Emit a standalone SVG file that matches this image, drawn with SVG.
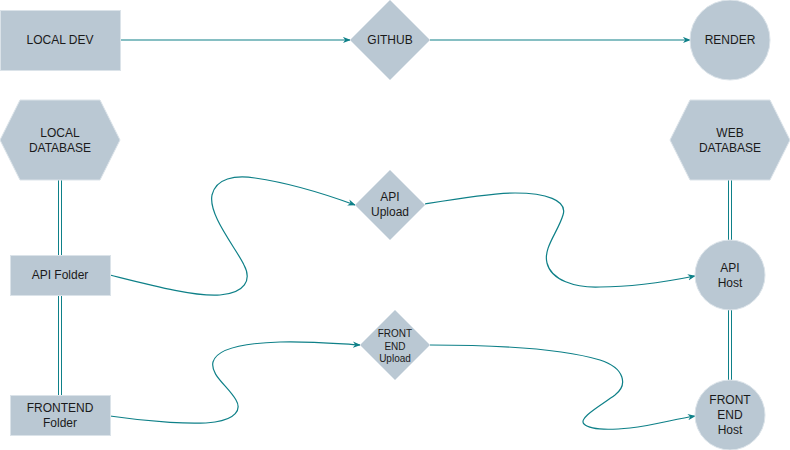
<svg xmlns="http://www.w3.org/2000/svg" width="790" height="450" viewBox="0 0 790 450">
<defs>
<style>
.node{fill:#bac8d3;stroke:#dbe3e9;stroke-width:1}
.t{font-family:"Liberation Sans",Arial,sans-serif;font-size:12px;fill:#1a1a1a;text-anchor:middle}
.s{font-size:10px}
.e{fill:none;stroke:#0e8088;stroke-width:1.2}
.d{fill:none;stroke:#0e8088;stroke-width:1}
</style>
<marker id="arr" viewBox="0 0 10 8" refX="9" refY="4" markerWidth="8" markerHeight="7" markerUnits="userSpaceOnUse" orient="auto">
<path d="M0,0 L10,4 L0,8 L3,4 Z" fill="#0e8088"/>
</marker>
</defs>
<rect width="790" height="450" fill="#ffffff"/>
<g id="connectors">
<path class="e" d="M120,40 L350,40" marker-end="url(#arr)"/>
<path class="e" d="M430,40 L690,40" marker-end="url(#arr)"/>
<path class="e" d="M110,275 C150,285 195,297 220,295 C245,293 252,280 244,265 C236,248 208,215 212,195 C216,178 235,175 255,178 C290,183 325,194 355,205" marker-end="url(#arr)"/>
<path class="e" d="M425,204 C455,199 490,193 515,193 C545,193 568,200 563,215 C558,232 543,248 547,263 C551,280 575,288 600,287 C635,287 670,281 695,276" marker-end="url(#arr)"/>
<path class="e" d="M110,416 C150,422 195,425 215,422 C235,419 242,410 236,400 C228,386 210,375 213,362 C217,348 245,343 280,342 C310,341 340,344 360,345" marker-end="url(#arr)"/>
<path class="e" d="M430,345 C490,345 560,348 600,360 C625,368 628,385 615,395 C600,406 578,418 584,424 C590,430 610,430 630,428 C655,425 675,419 695,416" marker-end="url(#arr)"/>
<path class="d" d="M58.5,180 V255 M61.5,180 V255"/>
<path class="d" d="M58.5,295 V395 M61.5,295 V395"/>
<path class="d" d="M728.5,180 V240 M731.5,180 V240"/>
<path class="d" d="M728.5,310 V380 M731.5,310 V380"/>
</g>
<g id="local-dev">
<rect class="node" x="0.5" y="10.5" width="120" height="60"/>
<text class="t" x="60" y="44">LOCAL DEV</text>
</g>
<g id="github">
<polygon class="node" points="390,0 430,40 390,80 350,40"/>
<text class="t" x="390" y="44">GITHUB</text>
</g>
<g id="render">
<circle class="node" cx="730" cy="40" r="40"/>
<text class="t" x="730" y="44">RENDER</text>
</g>
<g id="local-database">
<polygon class="node" points="20,100 100,100 120,140 100,180 20,180 0,140"/>
<text class="t" x="60" y="137">LOCAL</text>
<text class="t" x="60" y="152">DATABASE</text>
</g>
<g id="web-database">
<polygon class="node" points="690,100 770,100 790,140 770,180 690,180 670,140"/>
<text class="t" x="730" y="137">WEB</text>
<text class="t" x="730" y="152">DATABASE</text>
</g>
<g id="api-folder">
<rect class="node" x="10.5" y="255.5" width="100" height="40"/>
<text class="t" x="60" y="279">API Folder</text>
</g>
<g id="frontend-folder">
<rect class="node" x="10.5" y="395.5" width="100" height="40"/>
<text class="t" x="60" y="412">FRONTEND</text>
<text class="t" x="60" y="427">Folder</text>
</g>
<g id="api-upload">
<polygon class="node" points="390,170 425,205 390,240 355,205"/>
<text class="t" x="390" y="201">API</text>
<text class="t" x="390" y="216">Upload</text>
</g>
<g id="frontend-upload">
<polygon class="node" points="395,310 430,345 395,380 360,345"/>
<text class="t s" x="395" y="337">FRONT</text>
<text class="t s" x="395" y="350">END</text>
<text class="t s" x="395" y="362">Upload</text>
</g>
<g id="api-host">
<circle class="node" cx="730" cy="275" r="35"/>
<text class="t" x="730" y="272">API</text>
<text class="t" x="730" y="287">Host</text>
</g>
<g id="frontend-host">
<circle class="node" cx="730" cy="415" r="35"/>
<text class="t" x="730" y="404">FRONT</text>
<text class="t" x="730" y="419">END</text>
<text class="t" x="730" y="434">Host</text>
</g>
</svg>
